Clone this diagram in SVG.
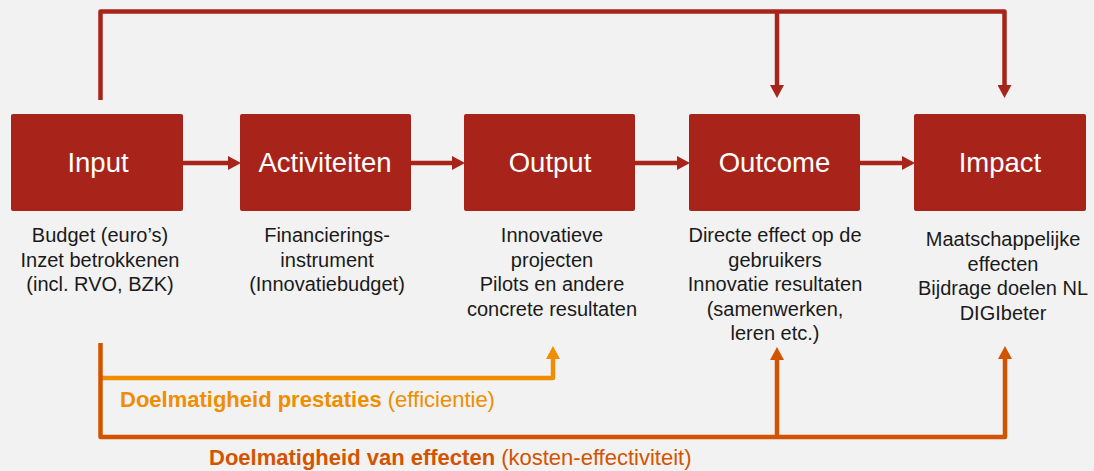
<svg xmlns="http://www.w3.org/2000/svg" width="1094" height="471" viewBox="0 0 1094 471">
<style>
.box{fill:#A8241A;}
.lbl{font-family:"Liberation Sans",Arial,sans-serif;font-size:27.5px;fill:#FFFFFF;text-anchor:middle;}
.desc{font-family:"Liberation Sans",Arial,sans-serif;font-size:20px;fill:#1A1A1A;text-anchor:middle;}
.ln{fill:none;stroke-width:4.5;stroke-linejoin:round;}
.red{stroke:#A8241A;}
.org{stroke:#EE8E00;}
.ro{stroke:#D35400;}
.cap{font-family:"Liberation Sans",Arial,sans-serif;font-size:22px;}
</style>
<defs>
<marker id="mr" markerUnits="userSpaceOnUse" markerWidth="14" markerHeight="14" refX="0" refY="7" orient="auto"><path d="M0,0 L13,7 L0,14 z" fill="#A8241A"/></marker>
<marker id="mo" markerUnits="userSpaceOnUse" markerWidth="14" markerHeight="14" refX="0" refY="7" orient="auto"><path d="M0,0 L13,7 L0,14 z" fill="#EE8E00"/></marker>
<marker id="mro" markerUnits="userSpaceOnUse" markerWidth="14" markerHeight="14" refX="0" refY="7" orient="auto"><path d="M0,0 L13,7 L0,14 z" fill="#D35400"/></marker>
</defs>
<rect width="1094" height="471" fill="#F2F2F2"/>
<g id="connectors">
<path class="ln red" d="M183,163 H228" marker-end="url(#mr)"/>
<path class="ln red" d="M411,163 H452" marker-end="url(#mr)"/>
<path class="ln red" d="M635,163 H677" marker-end="url(#mr)"/>
<path class="ln red" d="M860,163 H902" marker-end="url(#mr)"/>
<path class="ln red" d="M100.5,100 V11.5 H1004.5 V85" marker-end="url(#mr)"/>
<path class="ln red" d="M777,11.5 V85" marker-end="url(#mr)"/>
<path class="ln org" d="M102,378 H553 V359" marker-end="url(#mo)"/>
<path class="ln ro" d="M100.5,343 V437 H1005 V359" marker-end="url(#mro)"/>
<path class="ln ro" d="M777,437 V360" marker-end="url(#mro)"/>
</g>
<g id="input">
<rect class="box" x="11" y="114" width="172" height="97" rx="2"/>
<text class="lbl" x="98" y="172">Input</text>
<text class="desc" x="100" y="242">Budget (euro’s)</text>
<text class="desc" x="100" y="266.5">Inzet betrokkenen</text>
<text class="desc" x="100" y="291">(incl. RVO, BZK)</text>
</g>
<g id="activiteiten">
<rect class="box" x="240" y="114" width="171" height="97" rx="2"/>
<text class="lbl" x="325" y="172">Activiteiten</text>
<text class="desc" x="327" y="242">Financierings-</text>
<text class="desc" x="327" y="266.5">instrument</text>
<text class="desc" x="327" y="291">(Innovatiebudget)</text>
</g>
<g id="output">
<rect class="box" x="464" y="114" width="171" height="97" rx="2"/>
<text class="lbl" x="550" y="172">Output</text>
<text class="desc" x="552" y="242">Innovatieve</text>
<text class="desc" x="552" y="266.5">projecten</text>
<text class="desc" x="552" y="291">Pilots en andere</text>
<text class="desc" x="552" y="315.5">concrete resultaten</text>
</g>
<g id="outcome">
<rect class="box" x="689" y="114" width="171" height="97" rx="2"/>
<text class="lbl" x="774.5" y="172">Outcome</text>
<text class="desc" x="775" y="242">Directe effect op de</text>
<text class="desc" x="775" y="266.5">gebruikers</text>
<text class="desc" x="775" y="291">Innovatie resultaten</text>
<text class="desc" x="775" y="315.5">(samenwerken,</text>
<text class="desc" x="775" y="340">leren etc.)</text>
</g>
<g id="impact">
<rect class="box" x="914" y="114" width="172" height="97" rx="2"/>
<text class="lbl" x="1000" y="172">Impact</text>
<text class="desc" x="1003" y="246">Maatschappelijke</text>
<text class="desc" x="1003" y="270.5">effecten</text>
<text class="desc" x="1003" y="295">Bijdrage doelen NL</text>
<text class="desc" x="1003" y="319.5">DIGIbeter</text>
</g>
<g id="captions">
<text class="cap" x="120" y="407" fill="#EE8E00"><tspan font-weight="bold">Doelmatigheid prestaties</tspan> (efficientie)</text>
<text class="cap" x="209" y="465" fill="#D35400"><tspan font-weight="bold">Doelmatigheid van effecten</tspan> (kosten-effectiviteit)</text>
</g>
</svg>
